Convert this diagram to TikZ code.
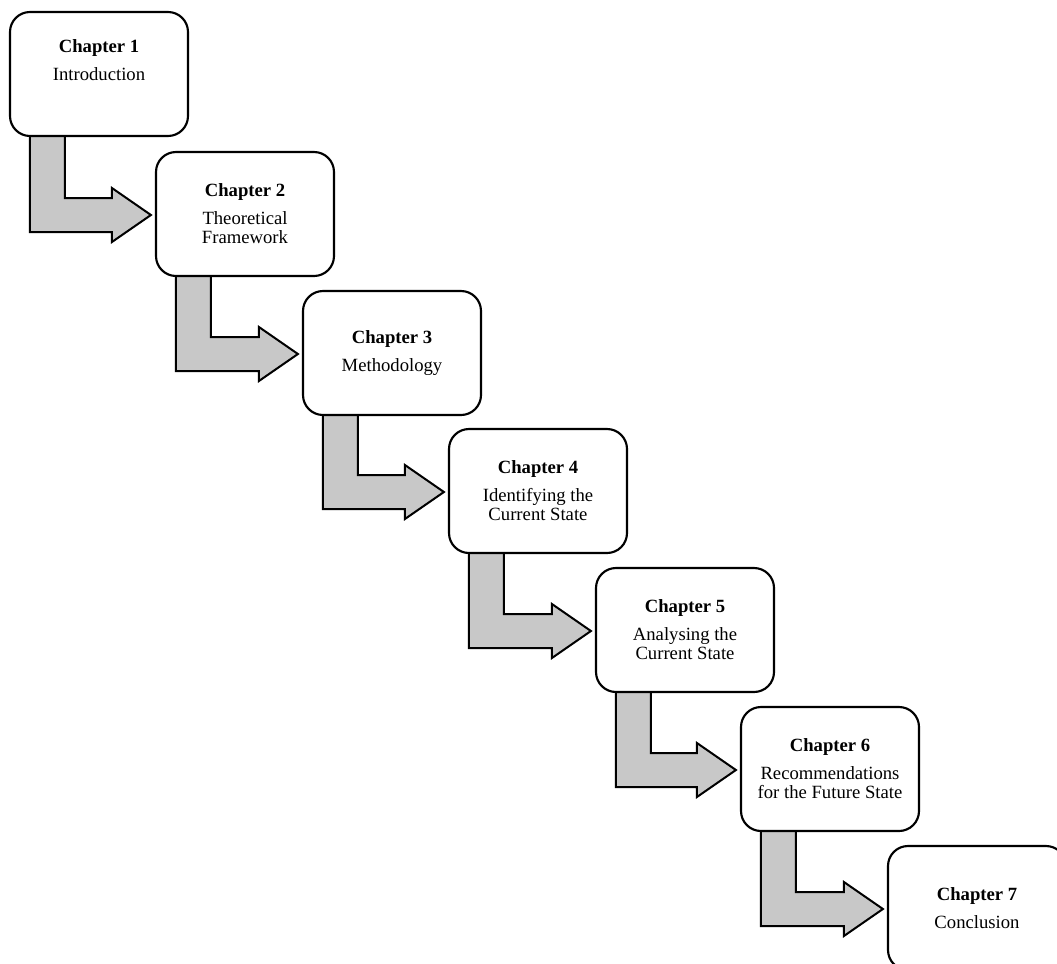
\documentclass[tikz,border=0pt]{standalone}
\usepackage{fontspec}
\setmainfont{Liberation Serif}
\usetikzlibrary{calc,backgrounds}
\definecolor{arrowgray}{RGB}{200,200,200}
\tikzset{
  box/.style={draw=black, line width=1.6pt, rounded corners=15pt, fill=white,
    minimum width=133.5pt, minimum height=93pt, inner sep=0pt, align=center,
    font=\fontsize{14pt}{14.25pt}\selectfont},
  bentarrow/.style={draw=black, line width=1.5pt, fill=arrowgray, line join=miter}
}
\newcommand{\bentarr}[2]{%
  \coordinate (sa) at ($(#1.south west)+(21,-2)$);
  \coordinate (sb) at ($(#1.south west)+(56,-2)$);
  \coordinate (wa) at ($(#2.west)+(0,18)$);
  \coordinate (wb) at ($(#2.west)+(0,-16)$);
  \path[bentarrow]
    (sa) -- (sa |- wa)
    -- ($(#2.west)+(-43,18)$)
    -- ($(#2.west)+(-43,28)$)
    -- ($(#2.west)+(-4,1)$)
    -- ($(#2.west)+(-43,-26)$)
    -- ($(#2.west)+(-43,-16)$)
    -- (sb |- wb)
    -- (sb)
    -- cycle;}
\begin{document}
\begin{tikzpicture}[x=0.75pt,y=-0.75pt]
\useasboundingbox (0,0) rectangle (1057,964);
\node[box, text depth=21pt] (b1) at (99,74) {\textbf{Chapter 1}\\[6.75pt]Introduction};
\node[box] (b2) at (245,214) {\textbf{Chapter 2}\\[6.75pt]Theoretical\\Framework};
\node[box] (b3) at (392,353) {\textbf{Chapter 3}\\[6.75pt]Methodology};
\node[box] (b4) at (538,491) {\textbf{Chapter 4}\\[6.75pt]Identifying the\\Current State};
\node[box] (b5) at (685,630) {\textbf{Chapter 5}\\[6.75pt]Analysing the\\Current State};
\node[box] (b6) at (830,769) {\textbf{Chapter 6}\\[6.75pt]Recommendations\\for the Future State};
\node[box] (b7) at (977,908) {\textbf{Chapter 7}\\[6.75pt]Conclusion};
\begin{scope}[on background layer]
\bentarr{b1}{b2}
\bentarr{b2}{b3}
\bentarr{b3}{b4}
\bentarr{b4}{b5}
\bentarr{b5}{b6}
\bentarr{b6}{b7}
\end{scope}
\end{tikzpicture}
\end{document}
